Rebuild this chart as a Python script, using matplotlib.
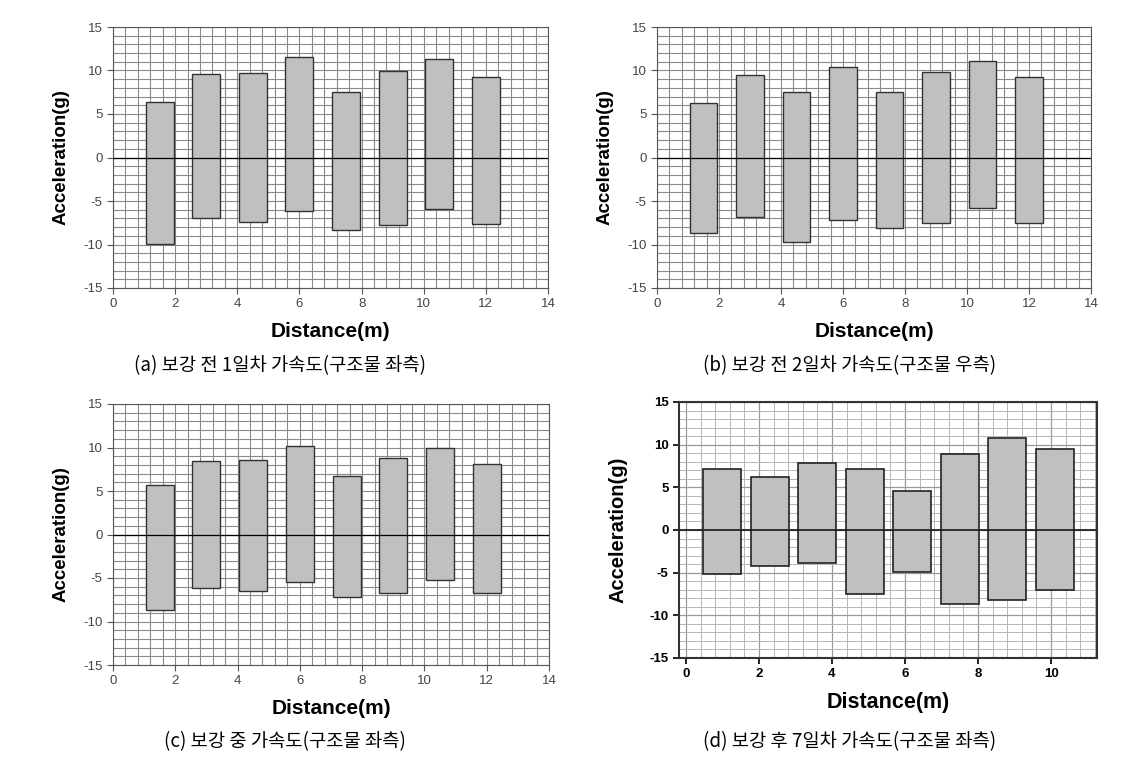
import matplotlib
matplotlib.use('Agg')
import matplotlib.pyplot as plt
import numpy as np

plt.rcParams['axes.unicode_minus'] = False

# 측정 위치 (m)
dist_abc = [1.5, 3.0, 4.5, 6.0, 7.5, 9.0, 10.5, 12.0]
dist_d = [1.0, 2.3, 3.6, 4.9, 6.2, 7.5, 8.8, 10.1]

# 최대/최소 가속도 (g)
a_max = [6.4, 9.6, 9.7, 11.6, 7.5, 9.9, 11.3, 9.2]
a_min = [-9.9, -7.0, -7.4, -6.1, -8.3, -7.8, -5.9, -7.7]
b_max = [6.3, 9.5, 7.5, 10.4, 7.5, 9.8, 11.1, 9.2]
b_min = [-8.65, -6.8, -9.7, -7.15, -8.1, -7.5, -5.8, -7.5]
c_max = [5.65, 8.4, 8.6, 10.2, 6.7, 8.75, 9.95, 8.15]
c_min = [-8.65, -6.1, -6.45, -5.45, -7.2, -6.7, -5.2, -6.7]
d_max = [7.1, 6.2, 7.85, 7.1, 4.6, 8.85, 10.75, 9.5]
d_min = [-5.1, -4.2, -3.85, -7.45, -4.95, -8.7, -8.2, -7.05]

captions = ['(a) 보강 전 1일차 가속도(구조물 좌측)',
            '(b) 보강 전 2일차 가속도(구조물 우측)',
            '(c) 보강 중 가속도(구조물 좌측)',
            '(d) 보강 후 7일차 가속도(구조물 좌측)']

W, H = 1131, 760
fig = plt.figure(figsize=(W / 100, H / 100), dpi=100)
sans = ['Liberation Sans', 'DejaVu Sans']
kr = ['Noto Sans CJK KR', 'DejaVu Sans']


def px_axes(l, t, r, b):
    return fig.add_axes([l / W, 1 - b / H, (r - l) / W, (b - t) / H])


def excel_panel(ax, x, ymax, ymin):
    ax.set_xlim(0, 14)
    ax.set_ylim(-15, 15)
    ax.set_xticks(np.arange(0, 15, 2))
    ax.set_yticks(np.arange(-15, 16, 5))
    ax.set_xticks(np.arange(0, 14.01, 0.4), minor=True)
    ax.set_yticks(np.arange(-15, 16, 1), minor=True)
    ax.grid(which='both', color='#8a8a8a', linewidth=0.8)
    ax.set_axisbelow(True)
    ax.tick_params(which='minor', length=0)
    ax.tick_params(which='major', length=4, direction='out', labelsize=9.5,
                   labelcolor='#444444', color='#555555')
    for s in ax.spines.values():
        s.set_color('#555555')
        s.set_linewidth(0.8)
    h = np.array(ymax) - np.array(ymin)
    ax.bar(x, h, bottom=ymin, width=0.9, color='#c0c0c0',
           edgecolor='#333333', linewidth=1.0, zorder=2)
    ax.axhline(0, color='black', linewidth=0.9, zorder=3)
    for lab in ax.get_xticklabels() + ax.get_yticklabels():
        lab.set_family(sans)
    ax.set_xlabel('Distance(m)', fontsize=15, fontweight='bold', family=sans, labelpad=8)
    ax.set_ylabel('Acceleration(g)', fontsize=13.5, fontweight='bold', family=sans, labelpad=10)


ax_a = px_axes(113, 27, 548, 288)
excel_panel(ax_a, dist_abc, a_max, a_min)
ax_b = px_axes(657, 27, 1091, 288)
excel_panel(ax_b, dist_abc, b_max, b_min)
ax_c = px_axes(113, 404, 549, 665)
excel_panel(ax_c, dist_abc, c_max, c_min)

# (d) 패널
ax_d = px_axes(679, 402, 1097, 658)
ax_d.set_xlim(-0.19, 11.26)
ax_d.set_ylim(-15, 15)
ax_d.set_xticks(np.arange(0, 11, 2))
ax_d.set_yticks(np.arange(-15, 16, 5))
ax_d.set_xticks(np.arange(0, 11.3, 0.4), minor=True)
ax_d.set_yticks(np.arange(-15, 16, 1), minor=True)
ax_d.grid(which='minor', color='#b5b5b5', linewidth=0.7)
ax_d.grid(which='major', color='#9a9a9a', linewidth=0.9)
ax_d.set_axisbelow(True)
ax_d.tick_params(which='minor', length=0)
ax_d.tick_params(which='major', length=4, direction='out', labelsize=9.5, width=1.2)
for s in ax_d.spines.values():
    s.set_color('#333333')
    s.set_linewidth(1.5)
h_d = np.array(d_max) - np.array(d_min)
ax_d.bar(dist_d, h_d, bottom=d_min, width=1.04, color='#c0c0c0',
         edgecolor='#222222', linewidth=1.2, zorder=2)
ax_d.axhline(0, color='#222222', linewidth=1.3, zorder=3)
for lab in ax_d.get_xticklabels() + ax_d.get_yticklabels():
    lab.set_family(sans)
    lab.set_fontweight('bold')
ax_d.set_xlabel('Distance(m)', fontsize=15.5, fontweight='bold', family=sans, labelpad=8)
ax_d.set_ylabel('Acceleration(g)', fontsize=14.5, fontweight='bold', family=sans, labelpad=16)

# 캡션
cap_pos = [(280, 366), (850, 366), (285, 742), (850, 742)]
for (cx, cy), txt in zip(cap_pos, captions):
    fig.text(cx / W, 1 - cy / H, txt, ha='center', va='center',
             fontsize=13.5, family=kr)

plt.savefig('out.png', dpi=100, facecolor='white')
